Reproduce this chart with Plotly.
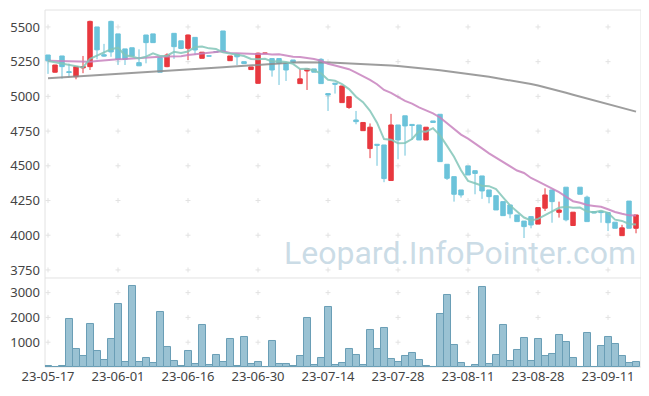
import plotly.graph_objects as go

# ---- data ----
dates = [
    "23-05-17","23-05-18","23-05-19","23-05-22","23-05-23","23-05-24","23-05-25","23-05-26","23-05-30","23-05-31",
    "23-06-01","23-06-02","23-06-05","23-06-07","23-06-08","23-06-09","23-06-12","23-06-13","23-06-14","23-06-15",
    "23-06-16","23-06-19","23-06-20","23-06-21","23-06-22","23-06-23","23-06-26","23-06-27","23-06-28","23-06-29",
    "23-06-30","23-07-03","23-07-04","23-07-05","23-07-06","23-07-07","23-07-10","23-07-11","23-07-12","23-07-13",
    "23-07-14","23-07-17","23-07-18","23-07-19","23-07-20","23-07-21","23-07-24","23-07-25","23-07-26","23-07-27",
    "23-07-28","23-07-31","23-08-01","23-08-02","23-08-03","23-08-04","23-08-07","23-08-08","23-08-09","23-08-10",
    "23-08-11","23-08-14","23-08-16","23-08-17","23-08-18","23-08-21","23-08-22","23-08-23","23-08-24","23-08-25",
    "23-08-28","23-08-29","23-08-30","23-08-31","23-09-01","23-09-04","23-09-05","23-09-06","23-09-07","23-09-08",
    "23-09-11","23-09-12","23-09-13","23-09-14","23-09-15",
]
opens = [5298,5174,5291,5178,5142,5205,5214,5500,5300,5540,
         5450,5342,5350,5243,5442,5450,5279,5214,5454,5400,
         5346,5425,5274,5292,5322,5471,5257,5305,5250,5193,
         5094,5311,5272,5272,5238,5262,5092,5183,5198,5267,
         5020,5095,4955,4920,4830,4753,4624,4655,4650,4394,
         4794,4860,4798,4794,4686,4823,4871,4511,4422,4326,
         4499,4465,4427,4326,4285,4242,4218,4146,4102,4134,
         4080,4195,4326,4165,4346,4070,4346,4274,4170,4172,
         4163,4094,3997,4246,4050]
highs = [5298,5226,5291,5236,5214,5291,5545,5500,5378,5545,
         5450,5342,5350,5339,5442,5450,5279,5310,5454,5400,
         5445,5425,5318,5292,5322,5471,5291,5305,5250,5212,
         5315,5311,5272,5272,5238,5262,5198,5198,5198,5275,
         5020,5095,5075,4998,4895,4812,4805,4655,4650,4874,
         4794,4860,4798,4794,4778,4823,4871,4511,4422,4326,
         4499,4465,4427,4326,4285,4242,4218,4146,4102,4134,
         4199,4338,4326,4242,4346,4166,4346,4285,4170,4172,
         4163,4094,4075,4246,4146]
lows = [5162,5171,5128,5137,5123,5167,5190,5267,5285,5285,
        5226,5226,5285,5218,5238,5385,5174,5210,5270,5340,
        5262,5298,5274,5290,5320,5315,5257,5226,5234,5190,
        5092,5311,5142,5082,5111,5243,5090,5046,5174,5092,
        4895,5020,4955,4910,4799,4753,4555,4500,4382,4394,
        4547,4573,4686,4686,4686,4811,4530,4398,4242,4271,
        4434,4295,4262,4230,4182,4141,4122,4098,3980,4050,
        4080,4175,4090,4127,4100,4070,4295,4098,4160,4090,
        4030,4050,3997,4050,4014]
closes = [5257,5226,5214,5172,5214,5215,5540,5335,5290,5320,
          5267,5267,5290,5220,5387,5387,5174,5298,5358,5345,
          5442,5334,5318,5290,5320,5322,5291,5285,5236,5212,
          5311,5311,5190,5238,5190,5243,5126,5198,5174,5092,
          5010,5088,5075,4998,4818,4812,4778,4648,4408,4794,
          4686,4787,4790,4686,4778,4812,4530,4410,4295,4290,
          4434,4445,4319,4278,4182,4141,4154,4098,4062,4074,
          4199,4290,4242,4182,4111,4166,4295,4098,4160,4163,
          4090,4050,4053,4050,4146]
volumes = [40,0,40,1920,711,430,1745,630,268,1114,
           2550,188,3248,188,349,148,2200,792,228,27,
           658,107,1678,67,497,188,1114,27,1195,107,
           188,0,1034,107,107,27,430,1987,67,349,
           2403,94,175,738,470,94,1503,711,1584,309,
           215,430,577,268,27,0,2148,2913,899,175,
           0,67,3235,134,497,1705,255,698,1181,255,
           1141,430,537,1302,1020,376,0,1383,0,859,
           1221,940,430,175,215]
# moving-average values before enough history is visible
ma5_head = [5255,5245,5236,5228]
ma20_head = [5257,5255,5252,5250,5248,5246,5249,5254,5260,5265,
             5268,5270,5274,5278,5281,5284,5286,5288,5289]
ma120 = [5130,5133,5135,5138,5141,5144,5147,5150,5153,5156,
         5159,5162,5166,5169,5172,5175,5178,5181,5184,5188,
         5191,5194,5198,5201,5205,5209,5213,5217,5221,5225,
         5229,5232,5236,5239,5242,5244,5245,5246,5246,5245,
         5244,5242,5240,5238,5236,5233,5231,5228,5225,5222,
         5219,5215,5211,5206,5200,5194,5188,5182,5176,5170,
         5164,5157,5149,5141,5132,5124,5116,5108,5100,5089,
         5078,5066,5053,5040,5026,5012,4998,4985,4972,4958,
         4945,4931,4918,4904,4890]
price_ticks = [3750, 4000, 4250, 4500, 4750, 5000, 5250, 5500]
vol_ticks = [1000, 2000, 3000]
x_ticks = dates[::10]
watermark = "Leopard.InfoPointer.com"


def rolling(values, n, head):
    out = list(head)
    for i in range(len(head), len(values)):
        out.append(sum(values[i - n + 1:i + 1]) / n)
    return out


ma5 = rolling(closes, 5, ma5_head)
ma20 = rolling(closes, 20, ma20_head)

RED = "#e8383f"
BLUE = "#6cc3da"
FONT = "Noto Sans"
CROSS_LINE = dict(color="#e2e2e2", width=1)

fig = go.Figure()

fig.add_trace(go.Candlestick(
    x=dates, open=opens, high=highs, low=lows, close=closes, showlegend=False,
    increasing=dict(fillcolor=RED, line=dict(color=RED, width=1)),
    decreasing=dict(fillcolor=BLUE, line=dict(color=BLUE, width=1)),
    whiskerwidth=0,
))
fig.add_trace(go.Scatter(x=dates, y=ma120, mode="lines", showlegend=False,
                         line=dict(color="rgba(140,140,140,0.85)", width=2)))
fig.add_trace(go.Scatter(x=dates, y=ma20, mode="lines", showlegend=False,
                         line=dict(color="rgba(200,130,190,0.85)", width=2)))
fig.add_trace(go.Scatter(x=dates, y=ma5, mode="lines", showlegend=False,
                         line=dict(color="rgba(130,198,185,0.85)", width=2)))

fig.add_trace(go.Bar(x=dates, y=volumes, yaxis="y2", showlegend=False,
                     marker=dict(color="#9ac2d3", line=dict(color="#6a9eb6", width=1))))

# faint "+" marks at tick intersections, drawn beneath the data
shapes = [
    dict(type="rect", xref="paper", yref="paper", x0=0, x1=1, y0=0, y1=1,
         line=dict(color="#e2e2e2", width=1), layer="below"),
    dict(type="line", xref="paper", yref="paper", x0=0, x1=1, y0=0.2493, y1=0.2493,
         line=dict(color="#e2e2e2", width=1), layer="below"),
]
for yref, ticks in (("y", price_ticks), ("y2", vol_ticks)):
    for xv in x_ticks:
        for yv in ticks:
            shapes.append(dict(type="line", xref="x", yref=yref, layer="below",
                               xsizemode="pixel", xanchor=xv, x0=-2.5, x1=2.5,
                               y0=yv, y1=yv, line=CROSS_LINE))
            shapes.append(dict(type="line", xref="x", yref=yref, layer="below",
                               ysizemode="pixel", yanchor=yv, y0=-2.5, y1=2.5,
                               x0=xv, x1=xv, line=CROSS_LINE))

# page body has an 8px margin, so the figure is drawn 8px smaller with shifted margins
fig.update_layout(
    width=641, height=388,
    margin=dict(l=37, r=8, t=2, b=29, autoexpand=False),
    paper_bgcolor="white", plot_bgcolor="white",
    font=dict(family=FONT, size=13, color="#444"),
    bargap=0, boxgap=0.25, boxgroupgap=0.15,
    xaxis=dict(type="category", categoryorder="array", categoryarray=dates,
               range=[-0.43, 84.71], tickvals=x_ticks, ticktext=x_ticks,
               showgrid=False, showline=False, zeroline=False, ticks="",
               anchor="y2", rangeslider=dict(visible=False), automargin=False,
               tickfont=dict(size=13, color="#444")),
    yaxis=dict(domain=[0.2493, 1], range=[3692, 5622], tickvals=price_ticks,
               showgrid=False, zeroline=False, showline=False, ticks="", automargin=False,
               anchor="x", ticklabelstandoff=4, tickfont=dict(size=13, color="#444")),
    yaxis2=dict(domain=[0, 0.2493], range=[0, 3590], tickvals=vol_ticks,
                showgrid=False, zeroline=False, showline=False, ticks="", automargin=False,
                anchor="x", ticklabelstandoff=4, tickfont=dict(size=13, color="#444")),
    shapes=shapes,
    annotations=[dict(text=watermark, xref="paper", yref="paper", x=0.696, y=0.319,
                      xanchor="center", yanchor="middle", showarrow=False,
                      font=dict(family="Roboto", size=32, color="rgba(180,205,220,0.7)"))],
)

fig.write_html("out.html")
